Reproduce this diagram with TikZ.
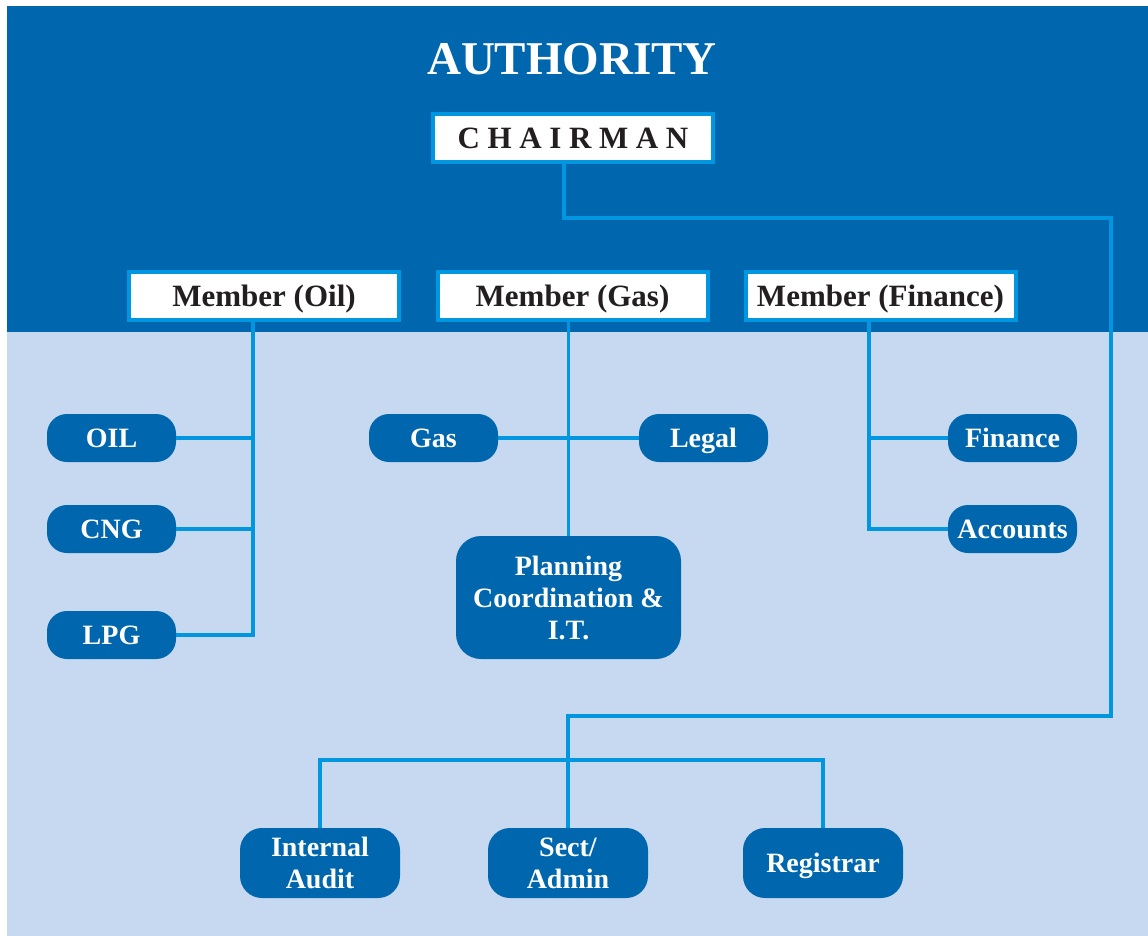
\documentclass[tikz,border=0pt]{standalone}
\usepackage{fontspec}
\setmainfont{Liberation Serif}
\definecolor{darkblue}{HTML}{0066AD}
\definecolor{lightbg}{HTML}{C6D9F0}
\definecolor{lineblue}{HTML}{0097E0}
\definecolor{txtdark}{HTML}{231F20}
\begin{document}
\begin{tikzpicture}[x=1pt,y=-1pt,
  conn/.style={draw=lineblue, line width=3.6pt, line join=miter},
  member/.style={draw=lineblue, line width=4pt, fill=white, minimum width=270pt, minimum height=48pt, inner sep=0pt,
    font=\fontsize{31}{31}\selectfont\bfseries, text=txtdark, text height=21pt, text depth=0pt},
  unit/.style={fill=darkblue, rounded corners=20pt, text=white, inner sep=0pt,
    minimum width=129pt, minimum height=48pt,
    font=\fontsize{28}{32}\selectfont\bfseries, text height=19pt, text depth=0pt},
  bigunit/.style={fill=darkblue, rounded corners=22pt, text=white, inner sep=0pt, align=center,
    font=\fontsize{28}{32}\selectfont\bfseries}
]
\useasboundingbox (0,0) rectangle (1148,936);
\fill[white] (0,0) rectangle (1148,936);
\fill[darkblue] (7,6) rectangle (1148,332);
\fill[lightbg] (7,332) rectangle (1148,936);

\node[text=white, font=\fontsize{47}{47}\selectfont\bfseries, text height=32pt, text depth=0pt, inner sep=0pt] (title) at (572,59) {AUTHORITY};
\node[member, minimum width=280pt, font=\fontsize{31}{31}\selectfont\bfseries] (chair) at (573,138)
  {C\hspace{7.6pt}H\hspace{7.6pt}A\hspace{7.6pt}I\hspace{7.6pt}R\hspace{7.6pt}M\hspace{7.6pt}A\hspace{7.6pt}N};

\node[member] (moil) at (264,296) {Member (Oil)};
\node[member] (mgas) at (572.5,296) {Member (Gas)};
\node[member] (mfin) at (880.5,296) {Member (Finance)};

\node[unit] (oil) at (111.5,438) {OIL};
\node[unit] (cng) at (111.5,529) {CNG};
\node[unit] (lpg) at (111.5,635) {LPG};
\node[unit] (gas) at (433.5,438) {Gas};
\node[unit] (legal) at (703.5,438) {Legal};
\node[unit] (fin) at (1012.5,438) {Finance};
\node[unit] (acc) at (1012.5,529) {Accounts};
\node[bigunit, minimum width=225pt, minimum height=123pt, rounded corners=25pt] (plan) at (568.5,597.5) {Planning\\Coordination \&\\I.T.};
\node[bigunit, minimum width=160pt, minimum height=70pt] (audit) at (320,863) {Internal\\Audit};
\node[bigunit, minimum width=160pt, minimum height=70pt] (sect) at (568,863) {Sect/\\Admin};
\node[bigunit, minimum width=160pt, minimum height=70pt, text height=19pt, text depth=0pt] (reg) at (823,863) {Registrar};

% chairman to staff units
\coordinate (cdrop) at (564,218);
\coordinate (rtop) at (1111,218);
\coordinate (rbot) at (1111,716);
\coordinate (bar) at (568,760);
\draw[conn] (chair.south -| cdrop) -- (cdrop) -- (rtop) -- (rbot) -| (sect.north);
\draw[conn] (audit.north) |- (bar) -| (reg.north);

% oil
\coordinate (oilbus) at (253,322);
\draw[conn] (moil.south -| oilbus) |- (lpg.east);
\draw[conn] (oil.east) -- (oil.east -| oilbus);
\draw[conn] (cng.east) -- (cng.east -| oilbus);

% gas
\draw[conn] (mgas.south -| plan.north) -- (plan.north);
\draw[conn] (gas.east) -- (legal.west);

% finance
\coordinate (finbus) at (869,322);
\draw[conn] (mfin.south -| finbus) |- (acc.west);
\draw[conn] (finbus |- fin.west) -- (fin.west);
\end{tikzpicture}
\end{document}
